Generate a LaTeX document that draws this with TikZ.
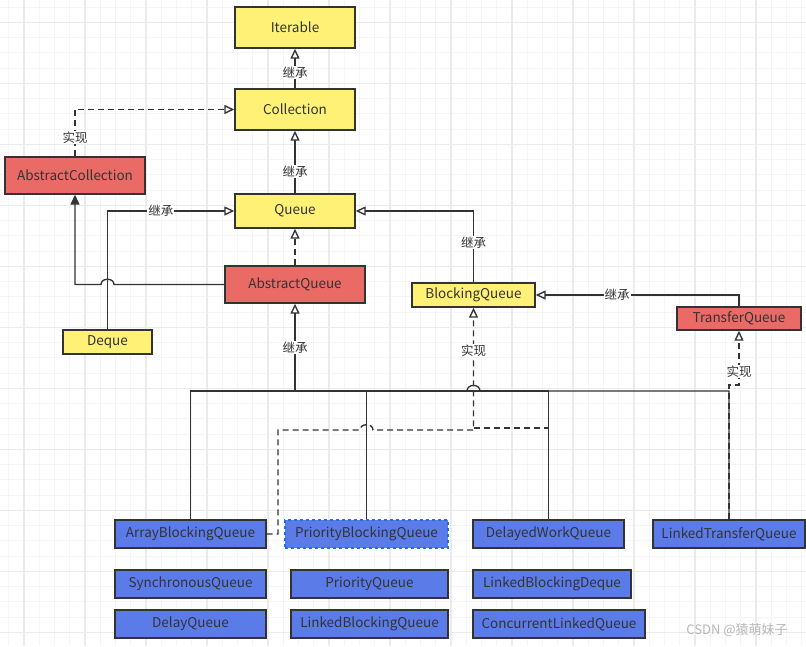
\documentclass[tikz,border=0pt]{standalone}
\usepackage{fontspec}
\setmainfont{Noto Sans CJK SC}
\usetikzlibrary{arrows.meta,positioning}
\definecolor{qyellow}{HTML}{FFF176}
\definecolor{qred}{HTML}{EA6B66}
\definecolor{qblue}{HTML}{5B7BE9}
\definecolor{qline}{HTML}{333333}
\definecolor{qsel}{HTML}{1F6FE0}
\definecolor{gridminor}{HTML}{F5F5F5}
\definecolor{gridmajor}{HTML}{EBEBEB}
\tikzset{
  cls/.style={draw=qline, line width=1.4pt, text=qline, inner sep=0pt,
    font=\fontsize{13.5}{15}\selectfont},
  iface/.style={cls, fill=qyellow},
  abscls/.style={cls, fill=qred},
  conc/.style={cls, fill=qblue, minimum height=28},
  line/.style={draw=qline, line width=1.35pt},
  extend/.style={line, -{Triangle[open, length=10pt, width=9pt]}},
  realize/.style={extend, dash pattern=on 6pt off 4pt},
  dashline/.style={line, dash pattern=on 6pt off 4pt},
  lbl/.style={fill=white, inner sep=1pt, text=qline, font=\fontsize{12.5}{14}\selectfont}
}
\begin{document}
\begin{tikzpicture}[x=1pt, y=-1pt]
\useasboundingbox (0,0) rectangle (806,646);
\fill[white] (0,0) rectangle (806,646);
% grid
\foreach \i in {0,...,52} \draw[gridminor, line width=1pt] ({8.75+15.25*\i},0) -- ++(0,646);
\foreach \i in {0,...,41} \draw[gridminor, line width=1pt] (0,{7.05+15.25*\i}) -- ++(806,0);
\foreach \i in {0,...,12} \draw[gridmajor, line width=1.2pt] ({24+61*\i},0) -- ++(0,646);
\foreach \i in {0,...,10} \draw[gridmajor, line width=1.2pt] (0,{22.3+61*\i}) -- ++(806,0);

% interfaces and abstract classes
\node[iface, minimum width=120, minimum height=41] (iterable) at (295,27.5) {Iterable};
\node[iface, minimum width=120, minimum height=41] (collection) at (295,109.5) {Collection};
\node[iface, minimum width=120, minimum height=34] (queue) at (295,211) {Queue};
\node[abscls, minimum width=140, minimum height=37] (abscoll) at (75,175.5) {AbstractCollection};
\node[abscls, minimum width=140, minimum height=37] (absqueue) at (295,284.5) {AbstractQueue};
\node[iface, minimum width=89, minimum height=24] (deque) at (107.5,342) {Deque};
\node[iface, minimum width=123, minimum height=24] (bqueue) at (473.5,295) {BlockingQueue};
\node[abscls, minimum width=124, minimum height=23] (tqueue) at (739,318.5) {TransferQueue};

% implementations
\node[conc, minimum width=151] (abq) at (190.5,534) {ArrayBlockingQueue};
\node[conc, minimum width=163, draw=qsel, dashed] (pbq) at (366.5,534) {PriorityBlockingQueue};
\node[conc, minimum width=151] (dwq) at (548.5,534) {DelayedWorkQueue};
\node[conc, minimum width=152] (ltq) at (729,534) {LinkedTransferQueue};
\node[conc, minimum width=151] (syncq) at (190.5,584) {SynchronousQueue};
\node[conc, minimum width=157] (prioq) at (369.5,584) {PriorityQueue};
\node[conc, minimum width=158] (lbd) at (552,584) {LinkedBlockingDeque};
\node[conc, minimum width=151] (delayq) at (190.5,624) {DelayQueue};
\node[conc, minimum width=157] (lbq) at (369.5,624) {LinkedBlockingQueue};
\node[conc, minimum width=172] (clq) at (559,624) {ConcurrentLinkedQueue};

% upper part
\draw[extend] (collection) -- node[lbl, pos=0.4]{继承} (iterable);
\draw[extend] (queue) -- node[lbl, pos=0.35]{继承} (collection);
\draw[realize] (abscoll.north) |- node[lbl, pos=0.2]{实现} (collection);
\draw[extend] (deque) |- node[lbl, pos=0.71]{继承} (queue);
\draw[realize] (absqueue) -- (queue);
\draw[line, -{Triangle[length=10pt, width=9pt]}] (absqueue.west) -- (114,284.5)
  .. controls (114,277.5) and (101,277.5) .. (101,284.5) -- (75,284.5) -- (abscoll);
\draw[extend] (bqueue) |- node[lbl, pos=0.28]{继承} (queue);
\draw[extend] (tqueue) |- node[lbl, pos=0.8]{继承} (bqueue);

% realizations of BlockingQueue and TransferQueue
\draw[realize] (abq.east) -- (278,534) -- (278,430) -- (360,430)
  .. controls (360,423) and (373,423) .. (373,430) -- (473.5,430)
  -- node[lbl, pos=0.65]{实现} (bqueue);
\draw[dashline] (dwq.north) |- (473.5,428);
\draw[realize] (ltq.north) -- (729,385) -- (739,385) -- node[lbl, pos=0.25]{实现} (tqueue);

% subclasses of AbstractQueue
\draw[extend] (abq) |- (295,391) -- node[lbl]{继承} (absqueue);
\draw[line] (pbq) |- (295,391);
\draw[line] (dwq) |- (295,391);
\draw[line] (ltq.north) -- (729,391) -- (480,391)
  .. controls (480,383.5) and (467,383.5) .. (467,391) -- (295,391);

\node[text=black!28, font=\fontsize{13}{15}\selectfont] (mark) at (737,630) {CSDN @猿萌妹子};
\end{tikzpicture}
\end{document}
